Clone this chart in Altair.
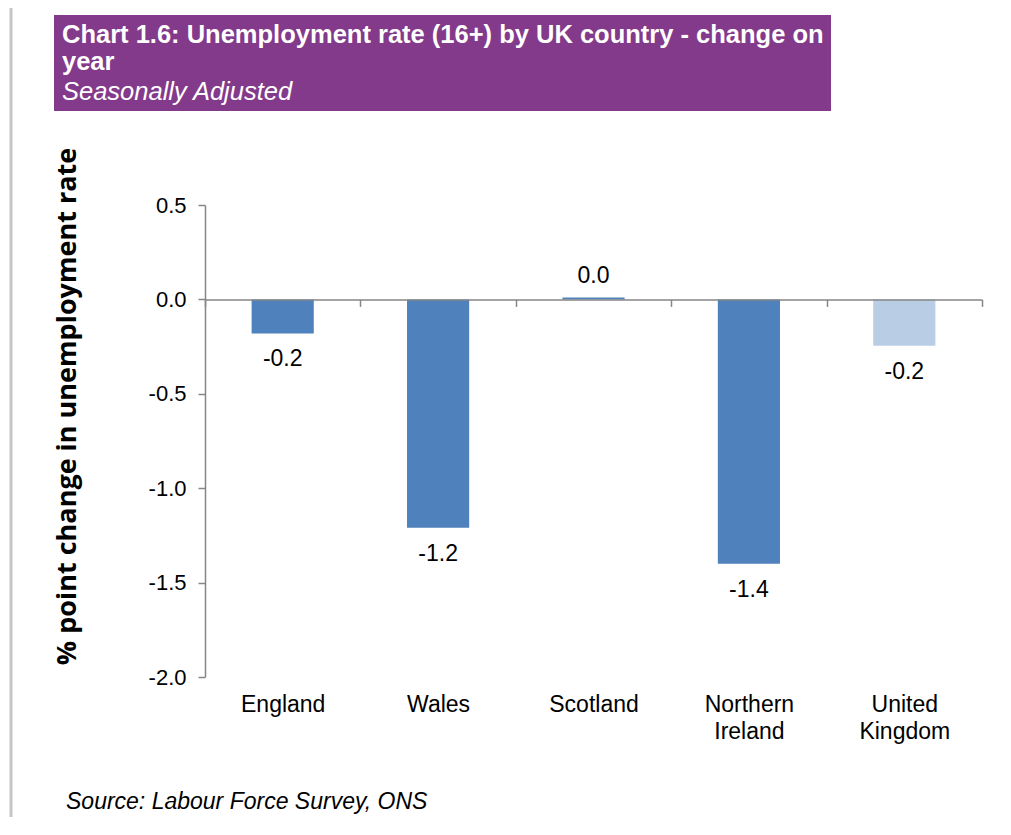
import altair as alt
import pandas as pd

countries = ["England", "Wales", "Scotland", "Northern Ireland", "United Kingdom"]
changes = [-0.18, -1.21, 0.01, -1.40, -0.245]
bar_colors = ["#4F81BD", "#4F81BD", "#4F81BD", "#4F81BD", "#B9CDE5"]
y_ticks = [0.5, 0.0, -0.5, -1.0, -1.5, -2.0]
title_line1 = "Chart 1.6: Unemployment rate (16+) by UK country - change on"
title_line2 = "year"
subtitle = "Seasonally Adjusted"
y_title = "% point change in unemployment rate"
source_text = "Source: Labour Force Survey, ONS"

df = pd.DataFrame({"country": countries, "change": changes})

W, H = 777, 472
FONT = "Liberation Sans"
GREY = "#868686"
zero_from_bottom = H - H * 0.5 / 2.5

x_enc = alt.X(
    "country:N", sort=countries,
    scale=alt.Scale(paddingInner=0, paddingOuter=0),
    axis=alt.Axis(title=None, orient="bottom", offset=-zero_from_bottom, tickBand="extent",
                  grid=False,
                  domainColor=GREY, tickColor=GREY, tickSize=7, domainWidth=1.5, tickWidth=1.5,
                  labelPadding=387, labelFont=FONT, labelFontSize=23, labelColor="black",
                  labelExpr="split(datum.label, ' ')", labelLineHeight=27, labelLimit=0,
                  labelAngle=0, zindex=1),
)
y_enc = alt.Y(
    "change:Q",
    scale=alt.Scale(domain=[-2, 0.5], nice=False, zero=False),
    axis=alt.Axis(values=y_ticks, format=".1f", grid=False, title=y_title,
                  titleFont="Open Sans", titleFontSize=27, titleFontWeight="bold",
                  titleColor="black", titleAngle=-90, titleX=-138, titleY=201,
                  titleAlign="center", titleBaseline="middle",
                  domainColor=GREY, tickColor=GREY, tickSize=7, domainWidth=1.5, tickWidth=1.5,
                  labelPadding=12, labelFont=FONT, labelFontSize=22, labelColor="black"),
)

base = alt.Chart(df)
bars = base.mark_bar(width=alt.RelativeBandSize(0.4)).encode(
    x=x_enc, y=y_enc,
    color=alt.Color("country:N", scale=alt.Scale(domain=countries, range=bar_colors), legend=None),
)
neg_labels = base.transform_filter("datum.change < 0").mark_text(
    font=FONT, fontSize=23, color="black", baseline="middle", dy=26
).encode(x=alt.X("country:N", sort=countries), y="change:Q", text=alt.Text("change:Q", format=".1f"))
pos_labels = base.transform_filter("datum.change >= 0").mark_text(
    font=FONT, fontSize=23, color="black", baseline="middle", dy=-22
).encode(x=alt.X("country:N", sort=countries), y="change:Q", text=alt.Text("change:Q", format=".1f"))

one = pd.DataFrame({"k": [0]})
deco = alt.Chart(one)
border = deco.mark_rule(color="#c6c6c6", strokeWidth=3).encode(
    x=alt.value(-194), y=alt.value(-205), y2=alt.value(630))
box = deco.mark_rect(color="#833A8B").encode(
    x=alt.value(-151), x2=alt.value(626), y=alt.value(-190), y2=alt.value(-94))
t1 = deco.mark_text(font=FONT, fontSize=25.5, fontWeight="bold", color="white",
                    align="left", baseline="alphabetic").encode(
    x=alt.value(-143), y=alt.value(-162), text=alt.value(title_line1))
t2 = deco.mark_text(font=FONT, fontSize=25.5, fontWeight="bold", color="white",
                    align="left", baseline="alphabetic").encode(
    x=alt.value(-143), y=alt.value(-135), text=alt.value(title_line2))
t3 = deco.mark_text(font=FONT, fontSize=25.5, fontStyle="italic", color="white",
                    align="left", baseline="alphabetic").encode(
    x=alt.value(-143), y=alt.value(-105), text=alt.value(subtitle))
src = deco.mark_text(font=FONT, fontSize=23, fontStyle="italic", color="black",
                     align="left", baseline="alphabetic").encode(
    x=alt.value(-139), y=alt.value(604), text=alt.value(source_text))

chart = alt.layer(border, box, t1, t2, t3, src, bars, neg_labels, pos_labels).properties(
    width=W, height=H, autosize="none",
    padding={"left": 197, "top": 197, "right": 18, "bottom": 140},
).configure(
    locale=alt.Locale(number=alt.NumberLocale(decimal=".", thousands=",", grouping=[3],
                                              currency=["", ""], minus="-"))
).configure_view(stroke=None)

chart.save("out.html", embed_options={"renderer": "svg", "actions": False})
